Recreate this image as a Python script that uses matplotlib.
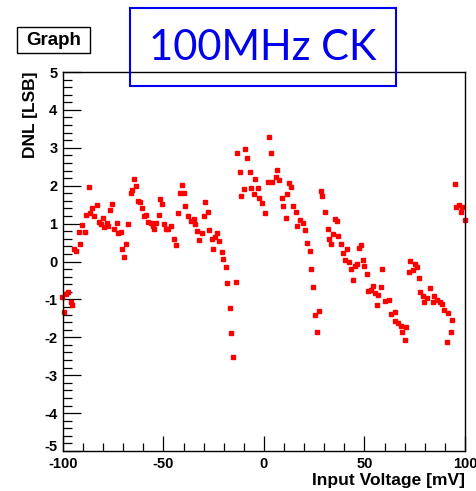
import matplotlib
matplotlib.use("Agg")
import matplotlib.pyplot as plt
import numpy as np
from matplotlib.patches import Rectangle
from matplotlib.ticker import MultipleLocator

# DNL scan: input voltage [mV], DNL [LSB]
voltage_mv = [
    -100.6, -99.4, -98.5, -97.4, -96.0, -95.4, -94.4, -93.5, -92.2, -91.5,
    -90.4, -89.1, -88.6, -87.1, -86.6, -85.4, -84.6, -83.2, -81.9, -81.2,
    -80.2, -79.5, -78.3, -77.5, -76.5, -75.8, -74.6, -73.3, -72.6, -71.3,
    -70.6, -69.5, -68.8, -67.7, -66.3, -65.8, -64.5, -63.7, -62.5, -61.7,
    -60.7, -59.6, -58.9, -57.6, -56.4, -55.4, -54.7, -53.7, -52.4, -51.9,
    -50.6, -49.9, -48.8, -47.8, -46.3, -44.8, -43.6, -42.9, -41.8, -40.9,
    -39.7, -39.2, -38.0, -36.5, -34.8, -34.2, -33.2, -32.3, -30.8, -29.9,
    -29.2, -27.9, -27.2, -25.9, -25.4, -24.2, -23.5, -22.2, -20.9, -20.2,
    -19.1, -18.4, -17.1, -16.4, -15.3, -13.9, -13.3, -11.9, -11.4, -10.1,
    -9.5, -8.3, -7.0, -6.3, -5.1, -4.5, -3.1, -2.5, -1.1, 0.6,
    2.1, 2.5, 3.6, 4.0, 5.8, 6.3, 7.6, 8.8, 9.5, 10.8,
    11.3, 12.6, 13.3, 14.4, 15.8, 16.3, 17.7, 19.6, 20.2, 21.4,
    22.7, 23.4, 24.5, 25.2, 26.5, 27.2, 28.4, 29.0, 30.3, 31.7,
    32.2, 33.3, 34.2, 35.3, 36.2, 37.0, 38.1, 39.2, 40.3, 41.1,
    42.3, 43.1, 44.1, 45.3, 46.1, 47.3, 48.1, 49.3, 49.9, 51.1,
    51.7, 53.1, 54.2, 55.0, 56.1, 56.8, 58.1, 58.7, 60.3, 62.0,
    63.3, 65.2, 65.4, 66.8, 68.4, 68.8, 70.1, 70.7, 72.0, 72.7,
    73.9, 75.1, 76.0, 77.0, 77.6, 79.3, 79.6, 81.2, 82.7, 83.9,
    84.7, 86.2, 87.4, 88.4, 89.7, 90.9, 91.7, 92.8, 93.5, 94.8,
    95.5, 96.8, 98.3, 97.9, 99.8,
]
dnl_lsb = [
    -0.94, -1.32, -0.86, -0.81, -1.06, -1.15, 0.34, 0.27, 0.77, 0.47,
    0.97, 0.77, 1.24, 1.97, 1.27, 1.40, 1.20, 1.48, 1.05, 0.99,
    1.16, 0.90, 1.01, 0.94, 1.37, 1.51, 0.86, 1.01, 0.76, 0.79,
    0.33, 0.13, 0.47, 0.98, 1.82, 1.88, 2.18, 1.98, 1.60, 1.56,
    1.40, 1.20, 1.24, 1.04, 1.01, 0.93, 0.86, 1.01, 1.24, 1.64,
    1.51, 0.98, 0.86, 0.86, 0.94, 0.59, 0.43, 1.27, 1.80, 2.01,
    1.80, 1.47, 1.21, 1.08, 1.12, 0.99, 0.80, 0.57, 0.76, 1.21,
    1.57, 1.30, 0.84, 0.60, 0.33, 0.65, 0.76, 0.53, 0.26, 0.07,
    -0.14, -0.57, -1.22, -1.88, -2.52, -0.53, 2.85, 2.37, 1.73, 1.91,
    2.98, 2.74, 2.37, 1.94, 1.78, 2.17, 1.94, 1.67, 1.54, 1.27,
    2.11, 3.28, 2.85, 2.11, 2.22, 2.41, 2.14, 1.67, 1.47, 1.14,
    1.78, 2.08, 1.97, 1.47, 1.30, 0.93, 1.09, 1.01, 0.83, 0.49,
    0.29, -0.21, -0.67, -1.42, -1.86, -1.31, 1.86, 1.73, 1.30, 0.86,
    0.59, 0.47, 0.73, 1.13, 1.07, 0.66, 0.47, 0.22, 0.03, 0.34,
    -0.01, -0.20, -0.48, -0.12, -0.06, 0.36, 0.43, 0.03, -0.13, -0.34,
    -0.78, -0.74, -0.64, -0.84, -1.14, -0.88, -0.68, -0.21, -1.04, -1.01,
    -1.38, -1.32, -1.57, -1.63, -1.69, -1.86, -2.08, -1.72, -0.28, 0.01,
    -0.23, -0.07, -0.14, -0.44, -0.81, -0.90, -1.08, -0.97, -0.71, -1.07,
    -0.90, -1.01, -1.06, -1.11, -1.28, -2.12, -1.35, -1.86, -1.55, 2.04,
    1.44, 1.49, 1.43, 1.30, 1.10,
]

x_ticks = [-100, -50, 0, 50, 100]
y_ticks = [-5, -4, -3, -2, -1, 0, 1, 2, 3, 4, 5]

plt.rcParams["font.family"] = ["Liberation Sans", "DejaVu Sans"]
plt.rcParams["axes.unicode_minus"] = False

fig = plt.figure(figsize=(4.77, 4.91), dpi=100)
ax = fig.add_axes([63 / 477, 40 / 491, 402 / 477, 379 / 491])

ax.plot(voltage_mv, dnl_lsb, ls="none", marker="s", ms=3.4,
        mfc="#ff0000", mec="#ff0000", clip_on=False)

ax.set_xlim(-100, 100)
ax.set_ylim(-5, 5)
ax.set_xticks(x_ticks)
ax.set_yticks(y_ticks)
ax.xaxis.set_minor_locator(MultipleLocator(10))
ax.yaxis.set_minor_locator(MultipleLocator(0.2))
ax.tick_params(which="both", direction="in", top=False, right=False,
               width=0.9, labelsize=10.5)
ax.tick_params(axis="x", which="major", length=11, pad=4)
ax.tick_params(axis="x", which="minor", length=5.5)
ax.tick_params(axis="y", which="major", length=13, pad=4)
ax.tick_params(axis="y", which="minor", length=6.5)
for lab in ax.get_xticklabels() + ax.get_yticklabels():
    lab.set_fontweight("bold")
# lift the bottom "-5" a little so it clears the "-100" below it
ax.yaxis.get_major_ticks()[0].label1.set_va("baseline")
for s in ax.spines.values():
    s.set_linewidth(1.0)

fig.text(465 / 477, 1 - 481 / 491, "Input Voltage [mV]", ha="right", va="center",
         fontsize=12.5, fontweight="bold")
fig.text(31 / 477, 1 - 71 / 491, "DNL [LSB]", ha="center", va="top",
         rotation=90, fontsize=12.5, fontweight="bold")

# ROOT title box
fig.patches.append(Rectangle((17 / 477, 1 - 53 / 491), 73 / 477, 26 / 491,
                             transform=fig.transFigure, fill=True, fc="white",
                             ec="black", lw=1.0))
fig.text(53.5 / 477, 1 - 40.5 / 491, "Graph", ha="center", va="center",
         fontsize=13.5, fontweight="bold")

# blue annotation box
fig.patches.append(Rectangle((130 / 477, 1 - 86 / 491), 266 / 477, 78 / 491,
                             transform=fig.transFigure, fill=False,
                             ec="#0000ee", lw=1.5, zorder=5))
fig.text(263 / 477, 1 - 48 / 491, "100MHz CK", ha="center", va="center",
         fontsize=30, color="#0000ee", family=["Lato", "DejaVu Sans"])

fig.savefig("out.png", dpi=100)
